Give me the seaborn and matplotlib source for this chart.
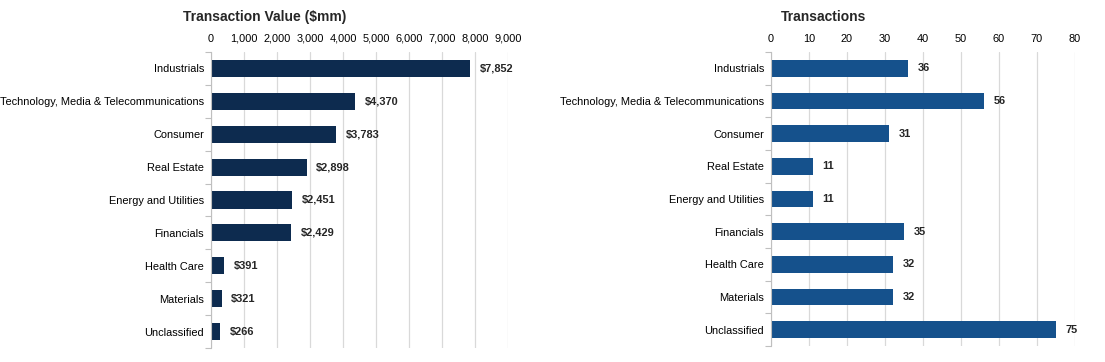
import matplotlib
matplotlib.use("Agg")
import matplotlib.pyplot as plt
import seaborn as sns
import numpy as np
import pandas as pd
from matplotlib.ticker import FuncFormatter, FixedLocator

categories = ["Industrials", "Technology, Media & Telecommunications", "Consumer",
              "Real Estate", "Energy and Utilities", "Financials", "Health Care",
              "Materials", "Unclassified"]
value_mm = [7852, 4370, 3783, 2898, 2451, 2429, 391, 321, 266]
transactions = [36, 56, 31, 11, 11, 35, 32, 32, 75]
value_ticks = [0, 1000, 2000, 3000, 4000, 5000, 6000, 7000, 8000, 9000]
count_ticks = [0, 10, 20, 30, 40, 50, 60, 70, 80]

sns.set_theme(style="white")
plt.rcParams['font.family'] = ['Liberation Sans', 'DejaVu Sans']

FS = 7.9

fig = plt.figure(figsize=(11.05, 3.62), dpi=100)
axL = fig.add_axes([211/1105, 1-348/362, (508-211)/1105, (348-52)/362])
axR = fig.add_axes([771/1105, 1-346/362, (1075-771)/1105, (346-52)/362])

df = pd.DataFrame({"cat": categories, "val": value_mm, "cnt": transactions})

def style(ax, ticks, fmt):
    ax.set_xlim(ticks[0], ticks[-1])
    ax.set_ylim(len(categories) - 0.5, -0.5)
    ax.xaxis.tick_top()
    ax.set_xticks(ticks)
    ax.xaxis.set_major_formatter(FuncFormatter(fmt))
    ax.tick_params(axis='x', length=0, pad=6, labelsize=FS, colors='#000000')
    ax.tick_params(axis='y', which='major', length=0, pad=5, labelsize=FS, colors='#000000')
    ax.yaxis.set_minor_locator(FixedLocator(np.arange(-0.5, len(categories), 1)))
    ax.tick_params(axis='y', which='minor', length=4, color='#BFBFBF', width=0.8, left=True)
    ax.grid(axis='x', color='#D9D9D9', linewidth=0.9)
    ax.set_axisbelow(True)
    for s in ['top', 'right', 'bottom']:
        ax.spines[s].set_visible(False)
    ax.spines['left'].set_color('#BFBFBF')
    ax.spines['left'].set_linewidth(0.8)
    ax.set_xlabel("")
    ax.set_ylabel("")

sns.barplot(data=df, x="val", y="cat", ax=axL, color="#0D2B4F", width=0.52,
            saturation=1, orient="h", linewidth=0)
style(axL, value_ticks, lambda v, p: f"{int(v):,}")
for i, v in enumerate(value_mm):
    axL.annotate(f"${v:,}", (v, i), xytext=(7, 0), textcoords="offset points",
                 va="center", ha="left", fontsize=FS, fontweight="bold")

sns.barplot(data=df, x="cnt", y="cat", ax=axR, color="#15518C", width=0.52,
            saturation=1, orient="h", linewidth=0)
style(axR, count_ticks, lambda v, p: f"{int(v)}")
for i, v in enumerate(transactions):
    axR.annotate(f"{v}", (v, i), xytext=(7, 0), textcoords="offset points",
                 va="center", ha="left", fontsize=FS, fontweight="bold")

fig.text(265/1105, 1-17/362, "Transaction Value ($mm)", ha="center", va="center",
         fontsize=10, fontweight="bold")
fig.text(824/1105, 1-17/362, "Transactions", ha="center", va="center",
         fontsize=10, fontweight="bold")

fig.savefig("out.png", dpi=100, facecolor="white")
